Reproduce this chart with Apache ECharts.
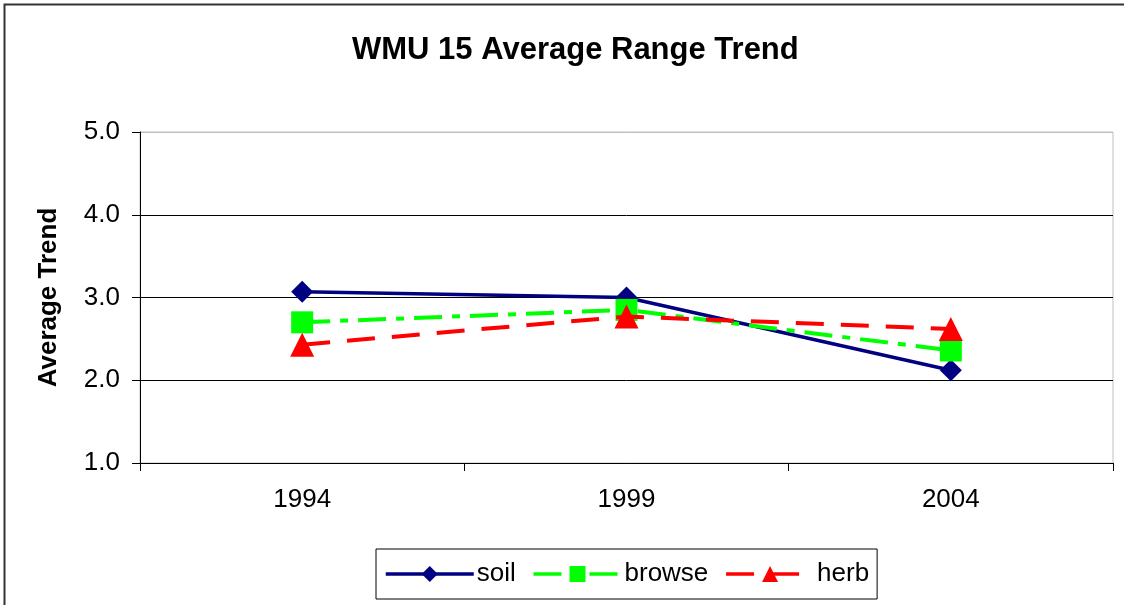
<!DOCTYPE html>
<html>
<head>
<meta charset="utf-8">
<script src="https://cdn.jsdelivr.net/npm/echarts@6/dist/echarts.min.js"></script>
<style>
	html, body { margin: 0; padding: 0; background: #fff; }
	#chart { width: 1124px; height: 605px; }
</style>
</head>
<body>
<div id="chart"></div>
<script>
// 数据
const years = ['1994', '1999', '2004'];
const soil = [3.07, 3.0, 2.12];
const browse = [2.7, 2.85, 2.36];
const herb = [2.43, 2.77, 2.62];

const FONT = 'Arial, "Liberation Sans", sans-serif';

const myChart = echarts.init(document.getElementById('chart'));

const option = {
	backgroundColor: '#fff',
	animation: false,
	title: {
		text: 'WMU 15 Average Range Trend',
		left: 347,
		top: 30,
		textStyle: { fontFamily: FONT, fontSize: 31, fontWeight: 'bold', color: '#000' },
	},
	graphic: [
		{
			// 外边框
			type: 'rect',
			shape: { x: 4.5, y: 4.5, width: 1140, height: 640 },
			style: { fill: null, stroke: '#333', lineWidth: 2 },
			silent: true,
		},
	],
	legend: {
		left: 376,
		top: 549,
		padding: [12, 8, 12, 8],
		itemGap: 16,
		itemWidth: 88,
		itemHeight: 20,
		borderColor: '#000',
		borderWidth: 1,
		lineStyle: { width: 3.5 },
		textStyle: { fontFamily: FONT, fontSize: 26, color: '#000', padding: [0, 0, 0, -2] },
		data: ['soil', 'browse', 'herb'],
	},
	grid: {
		left: 140,
		right: 11,
		top: 132,
		bottom: 142,
		show: true,
		borderColor: '#c0c0c0',
		borderWidth: 1,
	},
	xAxis: {
		type: 'category',
		data: years,
		boundaryGap: true,
		axisLine: { lineStyle: { color: '#000', width: 1 } },
		axisTick: { show: true, length: 8, inside: false, lineStyle: { color: '#000' } },
		axisLabel: { fontFamily: FONT, fontSize: 26, color: '#000', margin: 24 },
		splitLine: { show: false },
	},
	yAxis: {
		type: 'value',
		min: 1,
		max: 5,
		interval: 1,
		name: 'Average Trend',
		nameLocation: 'middle',
		nameGap: 78,
		nameRotate: 90,
		nameTextStyle: { fontFamily: FONT, fontSize: 26, fontWeight: 'bold', color: '#000' },
		axisLine: { show: true, lineStyle: { color: '#000', width: 1 } },
		axisTick: { show: true, length: 8, inside: false, lineStyle: { color: '#000' } },
		axisLabel: {
			fontFamily: FONT,
			fontSize: 26,
			color: '#000',
			margin: 20,
			formatter: (v) => v.toFixed(1),
		},
		splitLine: {
			show: true,
			lineStyle: { color: ['#000', '#000', '#000', '#000', '#c0c0c0'], width: 1 },
		},
	},
	series: [
		{
			name: 'soil',
			type: 'line',
			data: soil,
			symbol: 'diamond',
			symbolSize: 22,
			color: '#000080',
			lineStyle: { width: 3.5, color: '#000080' },
			itemStyle: { color: '#000080' },
			z: 3,
		},
		{
			name: 'browse',
			type: 'line',
			data: browse,
			symbol: 'rect',
			symbolSize: 22,
			color: '#00ff00',
			lineStyle: { width: 4, color: '#00ff00', type: [28, 10, 8, 10] },
			itemStyle: { color: '#00ff00' },
			z: 4,
		},
		{
			name: 'herb',
			type: 'line',
			data: herb,
			symbol: 'triangle',
			symbolSize: 24,
			color: '#ff0000',
			lineStyle: { width: 4, color: '#ff0000', type: [28, 17] },
			itemStyle: { color: '#ff0000' },
			z: 5,
		},
	],
};

myChart.setOption(option);
</script>
</body>
</html>
